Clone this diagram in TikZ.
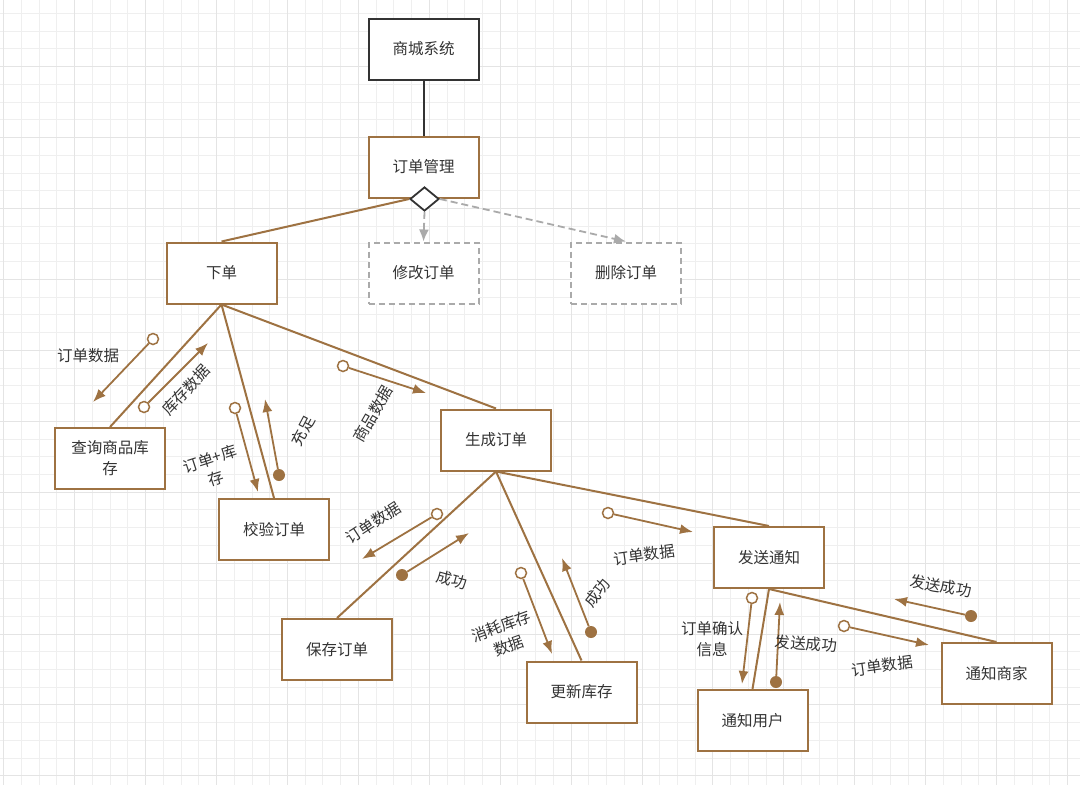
\documentclass[tikz,border=0pt]{standalone}
\usepackage{fontspec}
\setmainfont{Noto Sans CJK SC}
\usetikzlibrary{arrows.meta,shapes.geometric}
\definecolor{umlbrown}{RGB}{158,114,66}
\definecolor{inkgray}{RGB}{51,51,51}
\definecolor{ghostgray}{RGB}{170,170,170}
\definecolor{gridminor}{RGB}{239,239,239}
\definecolor{gridmajor}{RGB}{228,228,228}
\newcommand\zh{\fontsize{15.5}{21}\selectfont}
\tikzset{
	box/.style={draw=umlbrown,line width=2pt,fill=white,minimum width=110pt,minimum height=61pt,inner sep=2pt,text=inkgray,font=\zh,align=center},
	topbox/.style={box,draw=inkgray},
	ghostbox/.style={box,draw=ghostgray,dash pattern=on 6pt off 4pt},
	link/.style={draw=umlbrown,line width=2pt},
	ghostlink/.style={draw=ghostgray,line width=1.8pt,dash pattern=on 7pt off 4pt,-{Latex[length=12pt,width=10pt]}},
	msg/.style={draw=umlbrown,line width=1.8pt,-{Latex[length=13pt,width=10pt]}},
	req/.style={circle,draw=umlbrown,fill=white,line width=1.5pt,minimum size=11pt,inner sep=0pt},
	ack/.style={circle,fill=umlbrown,minimum size=12pt,inner sep=0pt},
	lbl/.style={text=inkgray,font=\zh,align=center,inner sep=1pt}
}
\begin{document}
\begin{tikzpicture}[x=1pt,y=-1pt]
\useasboundingbox (0,0) rectangle (1080,785);
\fill[white] (0,0) rectangle (1080,785);
\foreach \i in {0,...,61}{
	\pgfmathsetmacro{\gx}{round(3.3+17.73*\i)+0.5}
	\draw[line width=1pt,color=gridminor] (\gx,0)--(\gx,785);
}
\foreach \j in {0,...,44}{
	\pgfmathsetmacro{\gy}{round(-4.73+17.73*\j)+0.5}
	\draw[line width=1pt,color=gridminor] (0,\gy)--(1080,\gy);
}
\foreach \i in {0,4,...,60}{
	\pgfmathsetmacro{\gx}{round(3.3+17.73*\i)+0.5}
	\draw[line width=1pt,color=gridmajor] (\gx,0)--(\gx,785);
}
\foreach \j in {0,4,...,44}{
	\pgfmathsetmacro{\gy}{round(-4.73+17.73*\j)+0.5}
	\draw[line width=1pt,color=gridmajor] (0,\gy)--(1080,\gy);
}

\node[topbox] (mall) at (423.5,49) {商城系统};
\node[box] (ordmgr) at (423.5,167) {订单管理};
\node[box] (place) at (221.5,273) {下单};
\node[ghostbox] (modify) at (423.5,273) {修改订单};
\node[ghostbox] (remove) at (626,273) {删除订单};
\node[box] (query) at (110,458.5) {查询商品库\\存};
\node[box] (check) at (274,529.5) {校验订单};
\node[box] (gen) at (496,440) {生成订单};
\node[box] (save) at (337,649.5) {保存订单};
\node[box] (stock) at (581.5,692) {更新库存};
\node[box] (notify) at (769,557.5) {发送通知};
\node[box] (nuser) at (752.5,720.5) {通知用户};
\node[box] (nshop) at (996.5,673.5) {通知商家};
\node[diamond,draw=inkgray,fill=white,line width=1.8pt,minimum width=29pt,minimum height=24pt,inner sep=0pt] (dmd) at (424.5,199) {};

\draw[line width=2pt,inkgray] (mall.south)--(ordmgr.north);
\draw[link] (dmd.west)--(place.north);
\draw[ghostlink] (dmd.south)--(modify.north);
\draw[ghostlink] (dmd.east)--(remove.north);
\draw[link] (place.south)--(query.north);
\draw[link] (place.south)--(check.north);
\draw[link] (place.south)--(gen.north);
\draw[link] (gen.south)--(save.north);
\draw[link] (gen.south)--(stock.north);
\draw[link] (gen.south)--(notify.north);
\draw[link] (notify.south)--(nuser.north);
\draw[link] (notify.south)--(nshop.north);

% messages around 下单
\node[req] (m1) at (153,339) {};
\coordinate (m1e) at (93,402);
\draw[msg] (m1)--(m1e);
\node[lbl] (t1) at (88,356) {订单数据};
\node[req] (m2) at (144,407) {};
\coordinate (m2e) at (208,343);
\draw[msg] (m2)--(m2e);
\node[lbl,rotate=47] (t2) at (186,390) {库存数据};
\node[req] (m3) at (235,408) {};
\coordinate (m3e) at (258,492);
\draw[msg] (m3)--(m3e);
\node[lbl,rotate=18] (t3) at (213,469) {订单+库\\存};
\node[ack] (m4) at (279,475) {};
\coordinate (m4e) at (265,399);
\draw[msg] (m4)--(m4e);
\node[lbl,rotate=62] (t4) at (303,431) {充足};
\node[req] (m5) at (343,366) {};
\coordinate (m5e) at (426,393);
\draw[msg] (m5)--(m5e);
\node[lbl,rotate=60] (t5) at (373,414) {商品数据};

% messages around 生成订单
\node[req] (m6) at (437,514) {};
\coordinate (m6e) at (362,559);
\draw[msg] (m6)--(m6e);
\node[lbl,rotate=33] (t6) at (373,523) {订单数据};
\node[ack] (m7) at (402,575) {};
\coordinate (m7e) at (469,533);
\draw[msg] (m7)--(m7e);
\node[lbl,rotate=-15] (t7) at (452,580) {成功};
\node[req] (m8) at (521,573) {};
\coordinate (m8e) at (552,654);
\draw[msg] (m8)--(m8e);
\node[lbl,rotate=20] (t8) at (505,636) {消耗库存\\数据};
\node[ack] (m9) at (591,632) {};
\coordinate (m9e) at (562,558);
\draw[msg] (m9)--(m9e);
\node[lbl,rotate=52] (t9) at (597,593) {成功};
\node[req] (m10) at (608,513) {};
\coordinate (m10e) at (693,532);
\draw[msg] (m10)--(m10e);
\node[lbl,rotate=8] (t10) at (644,555) {订单数据};

% messages around 发送通知
\node[req] (m11) at (752,598) {};
\coordinate (m11e) at (742,684);
\draw[msg] (m11)--(m11e);
\node[lbl] (t11) at (712,639) {订单确认\\信息};
\node[ack] (m12) at (776,682) {};
\coordinate (m12e) at (780,602);
\draw[msg] (m12)--(m12e);
\node[lbl,rotate=-4] (t12) at (806,644) {发送成功};
\node[req] (m13) at (844,626) {};
\coordinate (m13e) at (929,645);
\draw[msg] (m13)--(m13e);
\node[lbl,rotate=8] (t13) at (882,666) {订单数据};
\node[ack] (m14) at (971,616) {};
\coordinate (m14e) at (894,599);
\draw[msg] (m14)--(m14e);
\node[lbl,rotate=-10] (t14) at (941,586) {发送成功};
\end{tikzpicture}
\end{document}
